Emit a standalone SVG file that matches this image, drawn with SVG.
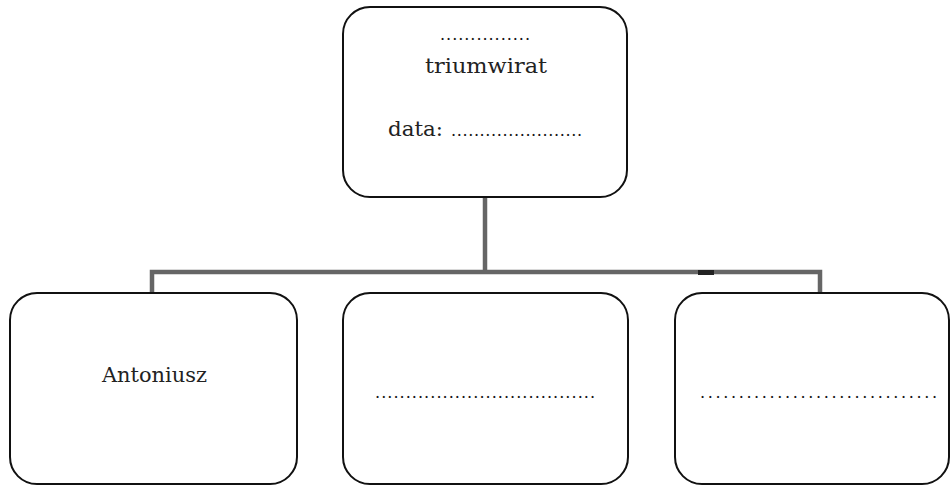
<svg xmlns="http://www.w3.org/2000/svg" width="951" height="486" viewBox="0 0 951 486">
<style>
.box{fill:#fff;stroke:#111;stroke-width:2}
.t{font-family:"DejaVu Serif","Liberation Serif",serif;font-size:21px;fill:#222}
.dots{font-family:"DejaVu Serif","Liberation Serif",serif;font-size:16px;fill:#111}
.conn{fill:none;stroke:#666;stroke-width:4.5}
</style>
<rect width="951" height="486" fill="#fff"/>
<g id="connectors">
<path class="conn" d="M485,197 V272"/>
<path class="conn" d="M152,293 V272 H820 V293"/>
<rect x="698" y="270" width="16" height="5" fill="#222"/>
</g>
<g id="node-top">
<rect class="box" x="343" y="7" width="284" height="190" rx="27"/>
<text class="dots" x="440" y="40" textLength="90" lengthAdjust="spacing">...............</text>
<text class="t" x="486" y="73" text-anchor="middle" textLength="122" lengthAdjust="spacingAndGlyphs">triumwirat</text>
<text class="t" x="388" y="136" textLength="55" lengthAdjust="spacingAndGlyphs">data:</text>
<text class="dots" x="451" y="136" textLength="131" lengthAdjust="spacing">.......................</text>
</g>
<g id="node-antoniusz">
<rect class="box" x="10" y="293" width="287" height="191" rx="27"/>
<text class="t" x="102" y="382" textLength="105" lengthAdjust="spacingAndGlyphs">Antoniusz</text>
</g>
<g id="node-second">
<rect class="box" x="343" y="293" width="285" height="191" rx="27"/>
<text class="dots" x="375" y="398" textLength="220" lengthAdjust="spacing">....................................</text>
</g>
<g id="node-third">
<rect class="box" x="675" y="293" width="274" height="191" rx="27"/>
<text class="dots" x="700" y="398" textLength="237" lengthAdjust="spacing">...............................</text>
</g>
</svg>
